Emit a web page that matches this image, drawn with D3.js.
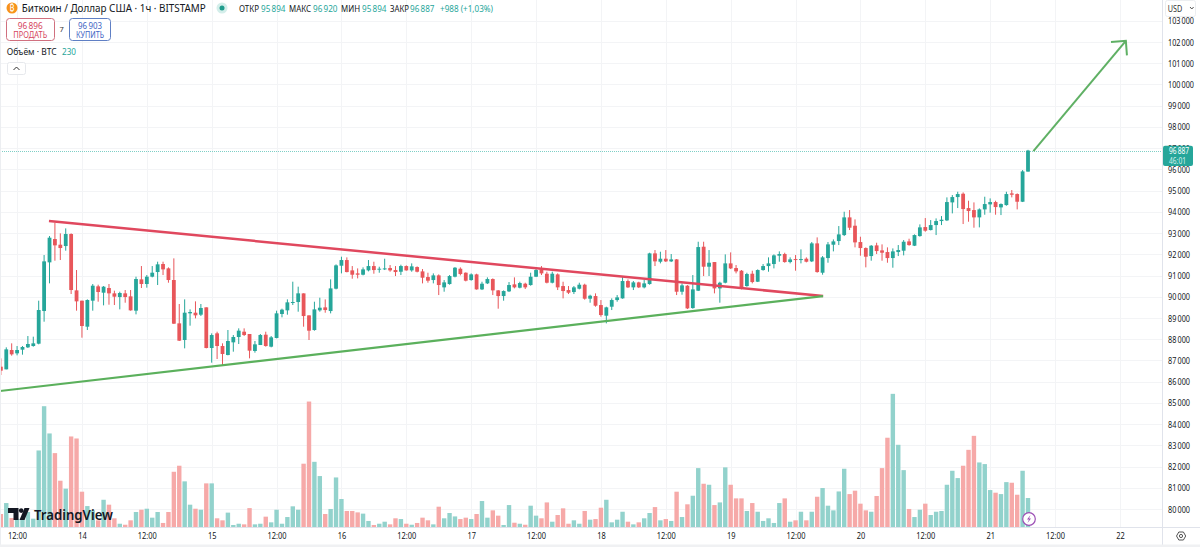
<!DOCTYPE html>
<html>
<head>
<meta charset="utf-8">
<script src="https://cdn.jsdelivr.net/npm/d3@7"></script>
<style>
  html, body { margin: 0; padding: 0; background: #fff; }
  svg { display: block; }
  text { font-family: "Noto Sans", "Open Sans", sans-serif; }
</style>
</head>
<body>
<div id="chart"></div>
<script>
// hourly bars BTC/USD
const opens = [
  86705,86579,87490,87333,87506,87616,87678,87788,89327,91619,
  92718,92451,92388,92954,90300,89814,88589,89814,90489,90190,
  90410,90159,89986,90159,90018,89343,90818,90599,90944,91164,
  91541,91336,90787,88746,87961,89217,89248,89154,89500,87584,
  88275,87678,87254,87851,88102,88353,88244,87443,87725,88212,
  87647,88055,89186,89358,89719,89751,90158,89122,88431,89357,
  89499,89326,90378,91461,91728,91241,91100,91037,91241,91445,
  91273,91304,91351,91257,91178,91445,91241,91398,91194,90927,
  90786,91006,90441,90598,90943,91320,91131,90786,91053,90346,
  90629,90833,90299,90032,90252,90582,90425,90613,90551,90943,
  91288,91084,90660,91053,90503,90315,90221,90378,90566,89907,
  90032,89608,89106,89530,89844,89922,90739,90441,90676,90441,
  90598,92042,91649,91791,91665,91759,90236,90519,89467,90284,
  92356,91414,91634,90393,90660,91571,91351,91226,90503,91084,
  90707,91257,91445,91540,91932,92011,91634,91775,91728,91791,
  91665,92513,91131,91822,92450,92623,92905,93738,93345,92576,
  92293,91916,92419,92183,92105,91822,92105,92168,92607,92403,
  92858,93282,93141,93376,93565,93596,94444,94695,94852,94177,
  94083,93738,94114,94350,94460,94209,94318,94868,94837,94475,95894
];
const closes = [
  86517,87521,87286,87490,87631,87773,87804,89374,91666,92781,
  92420,92294,92954,90316,89782,88620,89845,90520,90222,90473,
  90159,90002,90175,89986,89358,90834,90599,90944,91132,91525,
  91289,90787,88730,87930,89248,89280,89123,89468,87584,88196,
  87678,87302,87914,88102,88401,88196,87459,87757,88196,87678,
  88087,89217,89390,89735,89751,90159,89090,88400,89404,89483,
  89373,90393,91477,91728,91163,91037,91037,91288,91445,91257,
  91320,91335,91241,91163,91445,91241,91430,91178,90896,90755,
  91006,90551,90676,90974,91367,91069,90755,91053,90346,90613,
  90833,90299,90032,90268,90551,90441,90645,90441,90943,91257,
  91100,90660,91084,90441,90268,90189,90441,90566,89907,90048,
  89577,89137,89499,89844,89970,90739,90441,90676,90441,90629,
  92042,91665,91791,91665,91759,90236,90535,89451,90346,92340,
  91414,91602,90393,90660,91571,91335,91194,90441,91069,90692,
  91257,91445,91571,91948,92011,91634,91759,91728,91775,91649,
  92513,91163,91854,92466,92607,92937,93738,93251,92560,92293,
  91885,92403,92152,92073,91822,92136,92199,92591,92434,92905,
  93267,93110,93376,93565,93628,94460,94695,94837,94130,94036,
  93738,94114,94366,94460,94224,94366,94837,94805,94475,95904,96887
];
const highs = [
  87097,87616,87804,87678,87678,88149,88118,89814,91964,92859,
  93487,92985,93220,92985,91258,89814,89876,90599,90567,90504,
  90599,90285,90237,90316,90316,90944,91446,91022,91446,91650,
  91650,91384,91807,89657,89876,89405,89782,89657,89500,88275,
  88353,87804,88432,88196,88510,88510,88244,87914,88244,88353,
  88149,89343,89437,89876,90708,90473,90158,89122,89765,89954,
  89875,90817,91524,91885,91854,91445,91335,91383,91728,91649,
  91414,91791,91492,91445,91508,91477,91571,91430,91304,91131,
  91100,91053,90786,91021,91398,91383,91147,91100,91084,90707,
  90912,90864,90315,90299,90692,90912,90707,90660,91131,91383,
  91445,91178,91178,91100,90707,90503,90503,90660,90613,90095,
  90158,89844,89530,89922,90079,90943,90817,90739,90707,90786,
  92073,92199,92120,92199,92011,91775,90629,90550,91021,92591,
  92591,92199,91634,90707,91995,92089,91492,91257,91131,91226,
  91288,91540,91854,91995,92136,92073,91854,91963,92230,91854,
  92576,92796,91916,92576,92701,93329,94004,94083,93643,92827,
  92325,92434,92544,92466,92325,92277,92434,92670,92733,92937,
  93408,93706,93612,93690,93800,94680,94789,94946,94915,94523,
  94444,94161,94711,94632,94523,94397,94946,95025,94868,95967,96920
];
const lows = [
  86312,86579,87223,87239,87270,87584,87647,87757,88824,90630,
  91698,91729,92169,90128,89343,88071,88432,89343,89766,89594,
  89625,89609,89405,89719,89343,89170,90410,90426,90913,90551,
  91022,90661,88715,87914,87568,88636,88981,89091,87568,86893,
  87066,86736,87239,87411,87773,88149,87097,87364,87725,87647,
  87616,88039,89029,89154,89609,89295,88588,87960,88400,89294,
  89247,89216,90346,91100,91147,90849,90864,91006,91194,91084,
  91131,91257,91178,90974,91021,91226,91178,91147,90629,90660,
  90629,90079,90236,90566,90912,91006,90723,90755,90331,90315,
  90598,90079,89436,89813,90221,90393,90393,90362,90519,90927,
  91021,90629,90629,90315,89922,90127,90127,90346,89860,89718,
  89530,89059,88745,89373,89765,89907,90409,90315,90409,90393,
  90566,91445,91571,91634,91634,90079,90095,89420,89436,90268,
  90974,90974,90158,89718,90629,91304,91100,90346,90472,90629,
  90692,91226,91178,91335,91649,91602,91571,91226,91571,91618,
  91634,91131,91037,91602,92136,92434,92858,93141,92325,91932,
  91383,91697,92011,91697,91602,91367,91916,91948,92403,92387,
  92827,93062,93125,92905,93376,93565,93926,94177,93424,93533,
  93251,93267,93863,93957,93863,93847,94287,94680,94114,94460,95894
];
const volumes = [
  103,190,71,66,66,119,66,607,958,742,
  586,367,304,718,702,280,166,132,53,216,
  177,69,26,18,53,119,137,145,74,119,
  32,119,438,486,362,177,145,137,346,346,
  69,53,114,16,26,21,150,21,26,82,
  37,137,26,79,164,137,502,995,517,404,
  103,143,393,222,127,127,116,106,48,16,
  26,42,21,69,63,26,18,32,74,53,
  21,161,69,111,84,63,74,63,103,206,
  74,132,90,16,174,34,26,18,169,90,
  69,195,42,95,148,26,53,26,127,58,
  63,153,216,37,58,121,42,21,37,69,
  111,158,53,63,48,280,79,180,248,467,
  343,335,174,195,473,335,227,227,127,190,
  121,48,69,32,190,227,42,53,121,53,
  121,240,309,169,132,282,462,261,288,185,
  132,121,246,467,708,1056,652,451,143,79,
  137,185,95,121,127,335,446,388,486,612,
  723,512,499,293,272,261,356,351,256,446,230
];

const priceTicks = d3.range(80000, 104000, 1000);
const timeTickBars = d3.range(3, 208, 12);
const timeTickLabels = ["12:00","14","12:00","15","12:00","16","12:00","17","12:00","18",
  "12:00","19","12:00","20","12:00","21","12:00","22"];

// drawings on the chart, in bar number / price
const resistance = [{bar: 8.9, price: 93565}, {bar: 152.1, price: 90032}];
const support = [{bar: -0.2, price: 85558}, {bar: 152.1, price: 90032}];
const arrowLine = [{bar: 191, price: 96862}, {bar: 208.1, price: 102057}];
const arrowHead = [{bar: 205.35, price: 101996}, {bar: 208.1, price: 102057}, {bar: 208.3, price: 101369}];

const lastPrice = 96887;
const upColor = "#26a69a", downColor = "#e8565a";
const upVol = "#92d2cc", downVol = "#f6a9a8";

const width = 1200, height = 547;
const axisX = 1162.5, axisY = 527.5;

const svg = d3.select("#chart").append("svg")
  .attr("width", width).attr("height", height)
  .style("background", "#fff");

const x = d3.scaleLinear().domain([0, 190]).range([0.86, 1028]);
const y = d3.scaleLinear().domain([80000, 102000]).range([509, 42]);
const yVol = d3.scaleLinear().domain([0, 1100]).range([527, 388.3]);
const fmt = v => d3.format(",")(v).replace(",", "\u2009");

// the reference's text is narrower than any installed font, so it gets squeezed to width
function label(px, py, str, size, fill, w, anchor) {
  const t = svg.append("text").attr("x", px).attr("y", py).text(str)
    .style("font-size", size + "px").attr("fill", fill);
  if (w) t.attr("textLength", w).attr("lengthAdjust", "spacingAndGlyphs");
  if (anchor) t.attr("text-anchor", anchor);
  return t;
}

// grid
svg.append("g").selectAll("line").data(priceTicks).enter().append("line")
  .attr("x1", 0).attr("x2", axisX)
  .attr("y1", d => Math.round(y(d)) + .5).attr("y2", d => Math.round(y(d)) + .5)
  .attr("stroke", "#f3f4f6");
svg.append("g").selectAll("line").data(timeTickBars).enter().append("line")
  .attr("x1", d => Math.round(x(d)) + .5).attr("x2", d => Math.round(x(d)) + .5)
  .attr("y1", 0).attr("y2", axisY)
  .attr("stroke", "#f3f4f6");

// volume
const bars = d3.range(opens.length);
svg.append("g").selectAll("rect").data(bars).enter().append("rect")
  .attr("x", i => x(i) - 2.2)
  .attr("width", 4.4)
  .attr("y", i => yVol(volumes[i]))
  .attr("height", i => yVol(0) - yVol(volumes[i]))
  .attr("fill", i => closes[i] >= opens[i] ? upVol : downVol);

// last price line
svg.append("line").attr("x1", 0).attr("x2", axisX)
  .attr("y1", Math.round(y(lastPrice)) + .5).attr("y2", Math.round(y(lastPrice)) + .5)
  .attr("stroke", "#7fcfc6").attr("stroke-dasharray", "1 1");

// candles
const candle = svg.append("g").selectAll("g").data(bars).enter().append("g")
  .attr("fill", i => closes[i] >= opens[i] ? upColor : downColor)
  .attr("stroke", i => closes[i] >= opens[i] ? upColor : downColor);
candle.append("line")
  .attr("x1", i => x(i)).attr("x2", i => x(i))
  .attr("y1", i => y(highs[i])).attr("y2", i => y(lows[i]))
  .attr("stroke-width", 1);
candle.append("rect")
  .attr("x", i => x(i) - 1.9).attr("width", 3.8)
  .attr("y", i => y(Math.max(opens[i], closes[i])))
  .attr("height", i => Math.max(1, Math.abs(y(opens[i]) - y(closes[i]))))
  .attr("stroke", "none");

// trend lines
const line = d3.line().x(d => x(d.bar)).y(d => y(d.price));
svg.append("path").attr("d", line(resistance)).attr("fill", "none")
  .attr("stroke", "#e0485e").attr("stroke-width", 2.5);
svg.append("path").attr("d", line(support)).attr("fill", "none")
  .attr("stroke", "#5bb05c").attr("stroke-width", 2.2);
svg.append("path").attr("d", line(arrowLine)).attr("fill", "none")
  .attr("stroke", "#5fb064").attr("stroke-width", 2);
svg.append("path").attr("d", line(arrowHead)).attr("fill", "none")
  .attr("stroke", "#5fb064").attr("stroke-width", 2);

// axes
const yAxis = d3.axisRight(y).tickValues(priceTicks).tickSize(0).tickPadding(5.5).tickFormat(fmt);
const gy = svg.append("g").attr("transform", `translate(${axisX},0)`).call(yAxis);
gy.select(".domain").remove();
gy.selectAll("text").style("font-size", "9.5px").attr("fill", "#131722")
  .style("font-family", '"Noto Sans", sans-serif')
  .attr("textLength", d => d >= 100000 ? 26 : 22)
  .attr("lengthAdjust", "spacingAndGlyphs");

const xAxis = d3.axisBottom(x).tickValues(timeTickBars).tickSize(0).tickPadding(5)
  .tickFormat((d, i) => timeTickLabels[i]);
const gx = svg.append("g").attr("transform", `translate(0,${axisY})`).call(xAxis);
gx.select(".domain").remove();
gx.selectAll("text").style("font-size", "9.5px").attr("fill", "#131722")
  .style("font-family", '"Noto Sans", sans-serif')
  .attr("textLength", (d, i) => timeTickLabels[i].length > 2 ? 19 : 8.5)
  .attr("lengthAdjust", "spacingAndGlyphs");

// currency box over the top label, axis borders
svg.append("rect").attr("x", 1165.5).attr("y", .5).attr("width", 30).attr("height", 16)
  .attr("rx", 2).attr("fill", "#fff").attr("stroke", "#eceef1");
label(1167.7, 11.5, "USD", 9.5, "#333", 14.5);
svg.append("path").attr("d", "M1190 7l1.8 2 1.8-2").attr("fill", "none").attr("stroke", "#555");
svg.append("line").attr("x1", axisX).attr("x2", axisX).attr("y1", 0).attr("y2", 547).attr("stroke", "#e0e3eb");
svg.append("line").attr("x1", 0).attr("x2", 1200).attr("y1", axisY).attr("y2", axisY).attr("stroke", "#e0e3eb");
svg.append("line").attr("x1", .5).attr("x2", .5).attr("y1", 0).attr("y2", 547).attr("stroke", "#eceef1");
svg.append("rect").attr("x", 0).attr("y", 544.5).attr("width", 1200).attr("height", 2.5).attr("fill", "#f0f1f3");

// price tag
svg.append("rect").attr("x", 1163).attr("y", 145.7).attr("width", 30).attr("height", 20.3).attr("rx", 2).attr("fill", upColor);
label(1169, 154.3, fmt(lastPrice), 9, "#fff", 20);
label(1169, 164, "46:01", 9, "#d5f0ec", 17);

// settings icon
svg.append("path").attr("d", "M1176.5 536l2.3-4h4.6l2.3 4-2.3 4h-4.6z").attr("fill", "none").attr("stroke", "#555");
svg.append("circle").attr("cx", 1181).attr("cy", 536).attr("r", 1.6).attr("fill", "none").attr("stroke", "#555");

// lightning badge
svg.append("circle").attr("cx", 1029).attr("cy", 519).attr("r", 6.3).attr("fill", "#fff").attr("stroke", "#9c4fb5").attr("stroke-width", 1.2);
svg.append("path").attr("d", "M1030.5 515l-3.5 4.6h2l-1.5 3.4 3.5-4.6h-2z").attr("fill", "#9c4fb5");

// logo
svg.append("path").attr("d", "M8 508h10.5v12h-5v-7H8z").attr("fill", "#131722");
svg.append("circle").attr("cx", 21.2).attr("cy", 510.6).attr("r", 2.3).attr("fill", "#131722");
svg.append("path").attr("d", "M24.5 508H29.5L24.5 520H19.5z").attr("fill", "#131722");
label(34, 519.5, "TradingView", 14.5, "#131722", 79).style("font-weight", 600);

// header
svg.append("circle").attr("cx", 12).attr("cy", 8).attr("r", 5.5).attr("fill", "#f7931a");
label(12, 11, "₿", 8.5, "#fff", null, "middle");
label(21.7, 12, "Биткоин / Доллар США · 1ч · BITSTAMP", 10.5, "#131722", 184);
svg.append("circle").attr("cx", 222).attr("cy", 8).attr("r", 5.5).attr("fill", "#d4eeea");
svg.append("circle").attr("cx", 222).attr("cy", 8).attr("r", 2.5).attr("fill", "#1f9c8c");

const ohlcLabels = ["ОТКР", "МАКС", "МИН", "ЗАКР"];
const ohlcValues = ["95\u2009894", "96\u2009920", "95\u2009894", "96\u2009887"];
const ohlcLabelX = [239, 289, 341, 390];
const ohlcLabelW = [20, 22, 19, 19];
const ohlcValueX = [261, 313, 362, 410];
ohlcLabels.forEach((d, i) => {
  label(ohlcLabelX[i], 12, d, 9.5, "#131722", ohlcLabelW[i]);
  label(ohlcValueX[i], 12, ohlcValues[i], 9.5, "#26a69a", 24.5);
});
label(440, 12, "+988 (+1,03%)", 9.5, "#26a69a", 53);

// trade buttons
svg.append("rect").attr("x", 6.5).attr("y", 18.5).attr("width", 48).attr("height", 22).attr("rx", 3)
  .attr("fill", "#fff").attr("stroke", "#d0707f");
label(30.2, 28.5, "96\u2009896", 9.5, "#d6455d", 25, "middle");
label(30.2, 38, "ПРОДАТЬ", 8.5, "#d6455d", 34, "middle");
label(61.7, 31.5, "7", 7.5, "#333", null, "middle");
svg.append("rect").attr("x", 69.5).attr("y", 18.5).attr("width", 41).attr("height", 22).attr("rx", 3)
  .attr("fill", "#fff").attr("stroke", "#5f7fc4");
label(90, 28.5, "96\u2009903", 9.5, "#3f66c4", 24, "middle");
label(90, 38, "КУПИТЬ", 8.5, "#3f66c4", 28, "middle");

// volume legend and collapse button
label(6.7, 55, "Объём · BTC", 9.5, "#131722", 50);
label(62, 55, "230", 9.5, "#26a69a", 14);
svg.append("rect").attr("x", 7.5).attr("y", 62.5).attr("width", 18).attr("height", 12).attr("rx", 2)
  .attr("fill", "#fff").attr("stroke", "#e6e8ec");
svg.append("path").attr("d", "M13.5 70l3-3 3 3").attr("fill", "none").attr("stroke", "#333");
</script>
</body>
</html>
